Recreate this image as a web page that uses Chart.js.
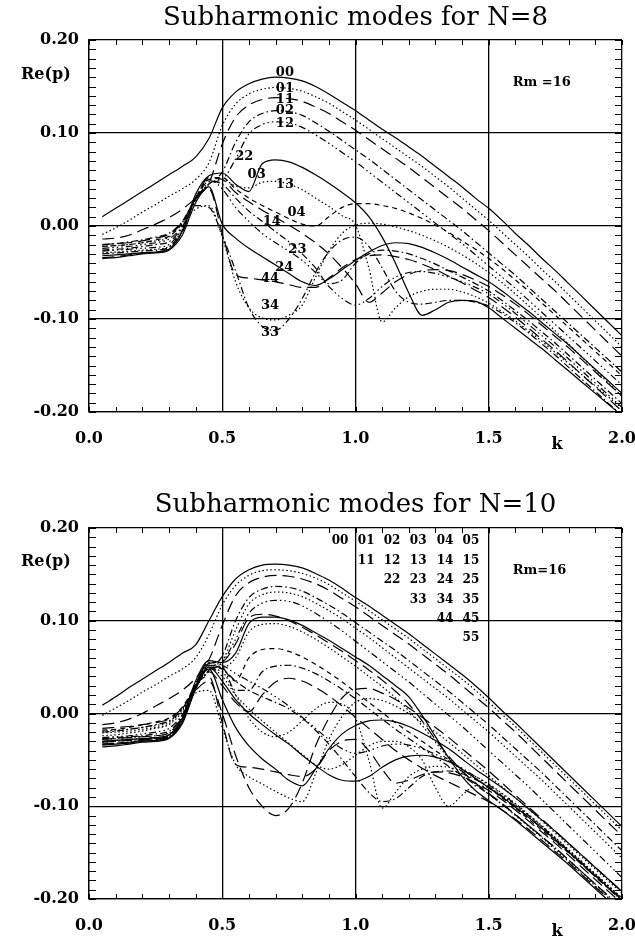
<!DOCTYPE html>
<html>
<head>
<meta charset="utf-8">
<script src="https://cdn.jsdelivr.net/npm/chart.js@4.4.0/dist/chart.umd.min.js"></script>
<style>
  body { margin: 0; background: #fff; }
  canvas { display: block; }
</style>
</head>
<body>
<canvas id="chartN8" width="635" height="469"></canvas>
<canvas id="chartN10" width="635" height="469"></canvas>
<script>
// wavenumber grid shared by every curve
var k = [0.05,0.10,0.15,0.20,0.25,0.30,0.35,0.40,0.45,0.50,0.55,0.60,0.65,0.70,0.75,0.80,0.85,0.90,0.95,1.00,
         1.05,1.10,1.15,1.20,1.25,1.30,1.35,1.40,1.45,1.50,1.55,1.60,1.65,1.70,1.75,1.80,1.85,1.90,1.95,2.00];

// ---- N=8, Re(p) per mode ----
var n8_00 = [0.010,0.019,0.028,0.037,0.046,0.055,0.064,0.074,0.094,0.127,0.144,0.153,0.158,0.160,0.159,0.156,0.150,0.142,0.133,0.124,0.114,0.104,0.095,0.085,0.075,0.064,0.053,0.042,0.030,0.019,0.006,-0.008,-0.021,-0.035,-0.048,-0.062,-0.076,-0.090,-0.104,-0.118];
var n8_01 = [-0.009,-0.002,0.006,0.015,0.023,0.032,0.040,0.050,0.068,0.108,0.131,0.142,0.147,0.149,0.148,0.145,0.139,0.132,0.123,0.114,0.104,0.094,0.084,0.074,0.064,0.053,0.042,0.030,0.018,0.006,-0.007,-0.020,-0.033,-0.047,-0.060,-0.074,-0.088,-0.102,-0.116,-0.130];
var n8_11 = [-0.014,-0.013,-0.010,-0.004,0.002,0.009,0.018,0.030,0.046,0.088,0.117,0.130,0.136,0.138,0.137,0.134,0.128,0.121,0.112,0.103,0.093,0.083,0.073,0.063,0.052,0.041,0.030,0.019,0.007,-0.005,-0.018,-0.031,-0.044,-0.057,-0.070,-0.084,-0.098,-0.112,-0.126,-0.140];
var n8_02 = [-0.020,-0.019,-0.017,-0.015,-0.012,-0.008,0.005,0.030,0.045,0.058,0.090,0.112,0.121,0.124,0.123,0.119,0.111,0.102,0.092,0.082,0.072,0.061,0.050,0.039,0.028,0.017,0.006,-0.005,-0.017,-0.029,-0.041,-0.053,-0.066,-0.079,-0.092,-0.105,-0.118,-0.131,-0.144,-0.157];
var n8_12 = [-0.024,-0.023,-0.022,-0.020,-0.018,-0.014,0.000,0.028,0.046,0.050,0.072,0.099,0.109,0.112,0.111,0.106,0.098,0.089,0.079,0.069,0.058,0.047,0.036,0.025,0.014,0.003,-0.008,-0.019,-0.031,-0.043,-0.055,-0.067,-0.080,-0.093,-0.106,-0.119,-0.132,-0.145,-0.158,-0.171];
var n8_22 = [-0.032,-0.031,-0.030,-0.029,-0.028,-0.025,-0.006,0.034,0.054,0.057,0.045,0.037,0.067,0.071,0.069,0.063,0.055,0.046,0.036,0.025,0.010,-0.012,-0.040,-0.072,-0.096,-0.090,-0.082,-0.080,-0.081,-0.088,-0.099,-0.110,-0.121,-0.132,-0.144,-0.156,-0.168,-0.180,-0.192,-0.204];
var n8_24 = [-0.035,-0.034,-0.032,-0.030,-0.029,-0.026,-0.010,0.025,0.042,0.002,-0.013,-0.024,-0.033,-0.042,-0.051,-0.060,-0.064,-0.057,-0.047,-0.037,-0.028,-0.021,-0.018,-0.019,-0.023,-0.029,-0.036,-0.044,-0.052,-0.060,-0.070,-0.081,-0.092,-0.104,-0.116,-0.128,-0.141,-0.154,-0.167,-0.180];
var n8_13 = [-0.029,-0.028,-0.027,-0.026,-0.025,-0.022,-0.004,0.028,0.045,0.050,0.043,0.041,0.047,0.048,0.045,0.039,0.030,0.021,0.011,0.001,-0.045,-0.103,-0.088,-0.076,-0.070,-0.068,-0.068,-0.071,-0.076,-0.083,-0.092,-0.102,-0.113,-0.124,-0.136,-0.148,-0.160,-0.172,-0.184,-0.196];
var n8_34 = [-0.022,-0.021,-0.020,-0.018,-0.016,-0.012,0.004,0.018,0.022,-0.012,-0.060,-0.088,-0.099,-0.101,-0.096,-0.085,-0.055,-0.027,-0.008,0.001,0.003,0.002,-0.001,-0.005,-0.010,-0.016,-0.023,-0.031,-0.040,-0.050,-0.061,-0.073,-0.086,-0.099,-0.113,-0.127,-0.141,-0.155,-0.169,-0.183];
var n8_33 = [-0.030,-0.029,-0.028,-0.027,-0.026,-0.023,-0.005,0.022,0.020,-0.010,-0.048,-0.088,-0.108,-0.112,-0.100,-0.078,-0.050,-0.028,-0.015,-0.012,-0.022,-0.045,-0.070,-0.082,-0.084,-0.082,-0.080,-0.080,-0.082,-0.086,-0.094,-0.104,-0.115,-0.127,-0.139,-0.152,-0.165,-0.178,-0.191,-0.204];
var n8_44 = [-0.034,-0.033,-0.031,-0.029,-0.028,-0.024,-0.007,0.030,0.040,-0.008,-0.052,-0.056,-0.058,-0.060,-0.063,-0.066,-0.066,-0.056,-0.045,-0.036,-0.032,-0.031,-0.033,-0.036,-0.041,-0.047,-0.054,-0.061,-0.069,-0.077,-0.087,-0.098,-0.110,-0.122,-0.134,-0.147,-0.160,-0.173,-0.186,-0.199];
var n8_23 = [-0.027,-0.026,-0.025,-0.024,-0.023,-0.020,-0.002,0.030,0.050,0.040,0.020,0.005,-0.008,-0.018,-0.027,-0.037,-0.050,-0.065,-0.078,-0.085,-0.078,-0.065,-0.055,-0.050,-0.049,-0.051,-0.055,-0.060,-0.066,-0.073,-0.083,-0.094,-0.106,-0.118,-0.130,-0.143,-0.156,-0.169,-0.182,-0.195];
var n8_14 = [-0.026,-0.025,-0.024,-0.022,-0.020,-0.017,-0.001,0.028,0.048,0.045,0.030,0.016,0.005,-0.006,-0.017,-0.030,-0.045,-0.062,-0.058,-0.040,-0.030,-0.026,-0.027,-0.030,-0.035,-0.041,-0.048,-0.055,-0.062,-0.070,-0.080,-0.091,-0.102,-0.114,-0.126,-0.139,-0.152,-0.165,-0.178,-0.191];
var n8_03 = [-0.020,-0.019,-0.018,-0.016,-0.013,-0.009,0.004,0.030,0.052,0.050,0.036,0.026,0.017,0.009,0.001,-0.008,-0.018,-0.030,-0.045,-0.062,-0.082,-0.072,-0.060,-0.052,-0.048,-0.047,-0.048,-0.052,-0.058,-0.065,-0.074,-0.084,-0.095,-0.107,-0.119,-0.131,-0.144,-0.157,-0.170,-0.183];
var n8_04 = [-0.022,-0.021,-0.020,-0.018,-0.015,-0.011,0.003,0.030,0.050,0.052,0.040,0.030,0.022,0.015,0.008,0.002,0.000,0.010,0.020,0.024,0.024,0.022,0.019,0.014,0.008,0.001,-0.007,-0.016,-0.025,-0.035,-0.046,-0.058,-0.070,-0.083,-0.096,-0.109,-0.122,-0.135,-0.148,-0.161];

// ---- N=10, Re(p) per mode ----
var n10_00 = [0.009,0.018,0.028,0.037,0.046,0.055,0.065,0.074,0.100,0.126,0.145,0.155,0.160,0.161,0.160,0.157,0.151,0.144,0.135,0.125,0.116,0.106,0.096,0.086,0.075,0.064,0.053,0.042,0.030,0.017,0.003,-0.010,-0.024,-0.038,-0.052,-0.066,-0.080,-0.094,-0.108,-0.122];
var n10_01 = [-0.002,0.006,0.014,0.023,0.031,0.040,0.048,0.060,0.085,0.117,0.138,0.149,0.154,0.155,0.154,0.151,0.146,0.139,0.130,0.121,0.111,0.101,0.091,0.081,0.070,0.059,0.048,0.037,0.025,0.012,-0.001,-0.014,-0.028,-0.042,-0.056,-0.070,-0.084,-0.098,-0.112,-0.126];
var n10_11 = [-0.012,-0.010,-0.006,0.000,0.008,0.016,0.025,0.038,0.058,0.095,0.127,0.141,0.147,0.149,0.148,0.145,0.140,0.133,0.124,0.115,0.105,0.095,0.085,0.075,0.064,0.053,0.042,0.030,0.018,0.006,-0.007,-0.020,-0.034,-0.048,-0.062,-0.076,-0.090,-0.104,-0.118,-0.132];
var n10_02 = [-0.020,-0.019,-0.017,-0.015,-0.012,-0.008,0.005,0.030,0.047,0.062,0.100,0.125,0.134,0.137,0.136,0.132,0.125,0.117,0.108,0.098,0.088,0.078,0.068,0.057,0.046,0.035,0.024,0.012,0.000,-0.012,-0.025,-0.038,-0.051,-0.064,-0.078,-0.092,-0.106,-0.120,-0.134,-0.148];
var n10_12 = [-0.024,-0.023,-0.021,-0.019,-0.016,-0.012,0.002,0.028,0.046,0.056,0.090,0.118,0.128,0.131,0.130,0.126,0.119,0.111,0.102,0.092,0.082,0.071,0.060,0.049,0.038,0.027,0.016,0.004,-0.008,-0.020,-0.033,-0.046,-0.059,-0.072,-0.086,-0.100,-0.114,-0.128,-0.142,-0.156];
var n10_22 = [-0.026,-0.025,-0.024,-0.022,-0.020,-0.016,-0.001,0.028,0.045,0.055,0.080,0.108,0.119,0.122,0.121,0.116,0.108,0.099,0.089,0.078,0.067,0.056,0.045,0.034,0.022,0.010,-0.002,-0.014,-0.027,-0.040,-0.053,-0.066,-0.079,-0.093,-0.107,-0.121,-0.135,-0.149,-0.163,-0.177];
var n10_13 = [-0.030,-0.029,-0.028,-0.027,-0.026,-0.023,-0.005,0.035,0.057,0.055,0.065,0.097,0.104,0.104,0.101,0.095,0.087,0.079,0.070,0.061,0.052,0.041,0.030,0.018,-0.002,-0.025,-0.048,-0.068,-0.083,-0.094,-0.104,-0.115,-0.127,-0.139,-0.151,-0.163,-0.176,-0.189,-0.202,-0.215];
var n10_23 = [-0.028,-0.027,-0.026,-0.025,-0.024,-0.021,-0.003,0.032,0.054,0.056,0.075,0.103,0.107,0.105,0.100,0.093,0.085,0.076,0.067,0.057,0.047,0.036,0.024,0.010,-0.008,-0.028,-0.046,-0.062,-0.075,-0.086,-0.097,-0.109,-0.121,-0.133,-0.145,-0.158,-0.171,-0.184,-0.197,-0.210];
var n10_33 = [-0.031,-0.030,-0.029,-0.028,-0.027,-0.024,-0.006,0.030,0.052,0.050,0.060,0.088,0.096,0.097,0.094,0.088,0.080,0.071,0.061,0.051,0.040,0.029,0.017,0.003,-0.013,-0.031,-0.048,-0.063,-0.076,-0.087,-0.098,-0.110,-0.122,-0.134,-0.147,-0.160,-0.173,-0.186,-0.199,-0.212];
var n10_03 = [-0.018,-0.017,-0.015,-0.012,-0.009,-0.005,0.007,0.030,0.050,0.048,0.035,0.060,0.069,0.070,0.067,0.061,0.053,0.044,0.034,0.023,0.012,0.001,-0.010,-0.020,-0.030,-0.040,-0.050,-0.060,-0.070,-0.080,-0.091,-0.102,-0.114,-0.126,-0.138,-0.150,-0.163,-0.176,-0.189,-0.202];
var n10_14 = [-0.027,-0.026,-0.025,-0.024,-0.022,-0.019,-0.002,0.030,0.052,0.050,0.025,0.025,0.045,0.051,0.052,0.049,0.043,0.035,0.026,0.016,0.005,-0.006,-0.017,-0.027,-0.037,-0.047,-0.057,-0.067,-0.077,-0.087,-0.098,-0.109,-0.121,-0.133,-0.145,-0.158,-0.171,-0.184,-0.197,-0.210];
var n10_24 = [-0.033,-0.032,-0.031,-0.029,-0.028,-0.025,-0.008,0.028,0.045,0.030,0.012,0.002,0.020,0.034,0.038,0.035,0.028,0.019,0.008,-0.004,-0.016,-0.028,-0.040,-0.050,-0.059,-0.067,-0.074,-0.081,-0.088,-0.095,-0.104,-0.114,-0.125,-0.137,-0.149,-0.161,-0.174,-0.187,-0.200,-0.213];
var n10_44 = [-0.034,-0.033,-0.032,-0.030,-0.029,-0.026,-0.009,0.028,0.048,0.015,-0.015,-0.035,-0.049,-0.060,-0.072,-0.078,-0.060,-0.038,-0.022,-0.013,-0.008,-0.007,-0.009,-0.014,-0.021,-0.029,-0.038,-0.049,-0.060,-0.070,-0.080,-0.091,-0.103,-0.115,-0.127,-0.140,-0.153,-0.166,-0.179,-0.192];
var n10_34 = [-0.036,-0.035,-0.033,-0.031,-0.030,-0.027,-0.011,0.026,0.050,0.035,0.015,0.000,-0.012,-0.023,-0.033,-0.045,-0.056,-0.066,-0.072,-0.073,-0.068,-0.058,-0.050,-0.046,-0.045,-0.047,-0.052,-0.060,-0.070,-0.080,-0.090,-0.101,-0.112,-0.124,-0.136,-0.149,-0.162,-0.175,-0.188,-0.201];
var n10_04 = [-0.016,-0.015,-0.014,-0.012,-0.010,-0.006,0.006,0.025,0.035,0.000,-0.045,-0.080,-0.100,-0.110,-0.102,-0.075,-0.035,-0.005,0.017,0.026,0.027,0.022,0.015,0.006,-0.004,-0.015,-0.026,-0.038,-0.050,-0.062,-0.075,-0.088,-0.101,-0.114,-0.127,-0.140,-0.153,-0.166,-0.179,-0.192];
var n10_35 = [-0.021,-0.020,-0.019,-0.017,-0.015,-0.011,0.004,0.022,0.025,-0.015,-0.055,-0.068,-0.076,-0.084,-0.091,-0.095,-0.065,-0.028,-0.003,0.012,0.016,0.014,0.008,0.000,-0.010,-0.020,-0.031,-0.043,-0.055,-0.067,-0.079,-0.091,-0.103,-0.116,-0.129,-0.142,-0.155,-0.168,-0.181,-0.194];
var n10_45 = [-0.031,-0.030,-0.029,-0.028,-0.027,-0.024,-0.007,0.030,0.040,-0.010,-0.055,-0.058,-0.060,-0.063,-0.066,-0.068,-0.060,-0.040,-0.030,-0.028,-0.040,-0.060,-0.075,-0.072,-0.066,-0.063,-0.064,-0.068,-0.075,-0.083,-0.093,-0.104,-0.116,-0.128,-0.140,-0.153,-0.166,-0.179,-0.192,-0.205];
var n10_05 = [-0.019,-0.018,-0.017,-0.015,-0.013,-0.009,0.005,0.030,0.048,0.045,0.020,-0.005,-0.020,-0.025,-0.020,-0.008,0.005,0.012,0.010,-0.005,-0.050,-0.102,-0.085,-0.068,-0.060,-0.057,-0.058,-0.062,-0.068,-0.076,-0.086,-0.097,-0.109,-0.121,-0.134,-0.147,-0.160,-0.173,-0.186,-0.199];
var n10_15 = [-0.028,-0.027,-0.026,-0.025,-0.024,-0.021,-0.003,0.028,0.050,0.040,0.020,0.005,-0.008,-0.020,-0.032,-0.044,-0.055,-0.060,-0.055,-0.045,-0.035,-0.030,-0.030,-0.036,-0.050,-0.080,-0.100,-0.088,-0.078,-0.080,-0.089,-0.099,-0.110,-0.122,-0.134,-0.147,-0.160,-0.173,-0.186,-0.199];
var n10_25 = [-0.033,-0.032,-0.031,-0.029,-0.028,-0.025,-0.008,0.030,0.052,0.048,0.035,0.025,0.018,0.012,0.005,-0.005,-0.018,-0.033,-0.050,-0.068,-0.085,-0.095,-0.092,-0.080,-0.068,-0.063,-0.062,-0.065,-0.071,-0.079,-0.089,-0.100,-0.112,-0.124,-0.137,-0.150,-0.163,-0.176,-0.189,-0.202];
var n10_55 = [-0.030,-0.029,-0.028,-0.027,-0.026,-0.023,-0.006,0.032,0.055,0.052,0.043,0.035,0.027,0.018,0.008,-0.004,-0.016,-0.028,-0.038,-0.043,-0.040,-0.035,-0.033,-0.034,-0.038,-0.044,-0.051,-0.059,-0.068,-0.077,-0.087,-0.098,-0.110,-0.122,-0.135,-0.148,-0.161,-0.174,-0.187,-0.200];

// mode labels written next to the curves in the N=8 panel (k, Re(p) where the text sits)
var lab8 = ['00','01','11','02','12','22','03','13','04','14','23','24','44','34','33'];
var lab8K = [0.735,0.735,0.735,0.735,0.735,0.583,0.629,0.735,0.779,0.686,0.782,0.733,0.679,0.679,0.679];
var lab8Re = [0.165,0.148,0.136,0.124,0.110,0.075,0.055,0.045,0.014,0.005,-0.025,-0.045,-0.057,-0.086,-0.115];

// mode table printed in the N=10 panel
var table10 = [
  ['00','01','02','03','04','05'],
  ['','11','12','13','14','15'],
  ['','','22','23','24','25'],
  ['','','','33','34','35'],
  ['','','','','44','45'],
  ['','','','','','55']
];
var table10K = [0.942,1.040,1.137,1.235,1.336,1.433];
var table10Re = [0.186,0.165,0.144,0.123,0.102,0.081];

var dashes = {
  solid: [],
  dot: [1.5, 2.5],
  dash: [5, 4],
  dashDot: [7, 3, 1.5, 3],
  dashDot3: [7, 3, 1.5, 3, 1.5, 3, 1.5, 3],
  longDash: [12, 6]
};

var curves8 = [
  [n8_00,'solid'],[n8_01,'dot'],[n8_11,'longDash'],[n8_02,'dashDot'],[n8_12,'dashDot3'],
  [n8_22,'solid'],[n8_24,'solid'],[n8_13,'dot'],[n8_34,'dot'],[n8_33,'dashDot'],
  [n8_44,'longDash'],[n8_23,'dashDot3'],[n8_14,'dashDot'],[n8_03,'longDash'],[n8_04,'dash']
];
var curves10 = [
  [n10_00,'solid'],[n10_01,'dot'],[n10_11,'longDash'],[n10_02,'dashDot'],[n10_12,'dot'],[n10_22,'dashDot3'],
  [n10_13,'solid'],[n10_23,'longDash'],[n10_33,'dot'],
  [n10_03,'dash'],[n10_14,'dashDot'],[n10_24,'longDash'],
  [n10_44,'solid'],[n10_34,'solid'],[n10_04,'longDash'],[n10_35,'dot'],[n10_45,'longDash'],
  [n10_05,'dot'],[n10_15,'dot'],[n10_25,'dashDot'],[n10_55,'dashDot3']
];

Chart.defaults.color = '#000';
Chart.defaults.font.family = '"DejaVu Serif", serif';

var decor = {
  id: 'decor',
  afterDatasetsDraw: function (chart, args, opts) {
    var ctx = chart.ctx, a = chart.chartArea;
    var xs = chart.scales.x, ys = chart.scales.y;
    var i, px, py;
    ctx.save();
    // minor ticks on all four sides, pointing inward
    ctx.strokeStyle = '#000';
    ctx.lineWidth = 1;
    ctx.beginPath();
    for (i = -20; i <= 20; i++) {
      py = Math.round(ys.getPixelForValue(i / 100)) + 0.5;
      ctx.moveTo(a.left, py); ctx.lineTo(a.left + 7, py);
      ctx.moveTo(a.right, py); ctx.lineTo(a.right - 7, py);
    }
    for (i = 0; i <= 20; i++) {
      px = Math.round(xs.getPixelForValue(i / 10)) + 0.5;
      ctx.moveTo(px, a.bottom); ctx.lineTo(px, a.bottom - 5);
      ctx.moveTo(px, a.top); ctx.lineTo(px, a.top + 5);
    }
    ctx.stroke();

    ctx.fillStyle = '#000';
    ctx.textBaseline = 'middle';
    ctx.font = 'bold 16px "DejaVu Serif"';
    ctx.textAlign = 'left';
    ctx.fillText('Re(p)', 21, ys.getPixelForValue(0.163));
    ctx.textAlign = 'center';
    ctx.fillText('k', xs.getPixelForValue(1.756), a.bottom + 33);

    ctx.font = 'bold 13px "DejaVu Serif"';
    ctx.textAlign = 'left';
    ctx.fillText(opts.rm, xs.getPixelForValue(1.59), ys.getPixelForValue(0.154));

    ctx.textAlign = 'center';
    if (opts.labels) {
      for (i = 0; i < opts.labels.length; i++) {
        ctx.fillText(opts.labels[i], xs.getPixelForValue(opts.labelK[i]), ys.getPixelForValue(opts.labelRe[i]));
      }
    }
    if (opts.table) {
      ctx.font = 'bold 12px "DejaVu Serif"';
      for (var r = 0; r < opts.table.length; r++) {
        for (var c = 0; c < opts.table[r].length; c++) {
          if (opts.table[r][c] === '') continue;
          ctx.fillText(opts.table[r][c], xs.getPixelForValue(opts.tableK[c]), ys.getPixelForValue(opts.tableRe[r]));
        }
      }
    }
    ctx.restore();
  }
};

function makeChart(id, titleText, curves, titlePad, xHeight, decorOpts) {
  var sets = [];
  for (var i = 0; i < curves.length; i++) {
    var vals = curves[i][0];
    var pts = [];
    for (var j = 0; j < k.length; j++) {
      pts.push({ x: k[j], y: vals[j] });
    }
    sets.push({
      data: pts,
      borderColor: '#000',
      borderWidth: 1.2,
      borderDash: dashes[curves[i][1]],
      pointRadius: 0,
      fill: false,
      cubicInterpolationMode: 'monotone'
    });
  }
  var tickFont = { family: '"DejaVu Serif"', size: 16, weight: 'bold' };
  return new Chart(document.getElementById(id), {
    type: 'line',
    data: { datasets: sets },
    options: {
      responsive: false,
      devicePixelRatio: 1,
      animation: false,
      layout: { padding: { left: 0, right: 13, top: 0, bottom: 0 } },
      plugins: {
        legend: { display: false },
        tooltip: { enabled: false },
        title: {
          display: true,
          text: titleText,
          fullSize: false,
          color: '#000',
          font: { family: '"DejaVu Serif"', size: 26, weight: 'normal', lineHeight: 1 },
          padding: titlePad
        },
        decor: decorOpts
      },
      scales: {
        x: {
          type: 'linear',
          min: 0,
          max: 2,
          ticks: {
            stepSize: 0.5,
            padding: 17,
            maxRotation: 0,
            font: tickFont,
            color: '#000',
            callback: function (v) { return v.toFixed(1); }
          },
          grid: { color: '#000', lineWidth: 1.3, drawTicks: false },
          border: { color: '#000', width: 1.3 },
          afterFit: function (s) { s.height = xHeight; s.paddingLeft = 0; s.paddingRight = 0; }
        },
        y: {
          min: -0.2,
          max: 0.2,
          ticks: {
            stepSize: 0.1,
            padding: 10,
            font: tickFont,
            color: '#000',
            callback: function (v) { return Math.abs(v) < 1e-9 ? '0.00' : v.toFixed(2); }
          },
          grid: { color: '#000', lineWidth: 1.3, drawTicks: false },
          border: { color: '#000', width: 1.3 },
          afterFit: function (s) { s.width = 89; s.paddingTop = 0; s.paddingBottom = 0; }
        }
      }
    },
    plugins: [decor]
  });
}

makeChart('chartN8', 'Subharmonic modes for N=8', curves8, { top: 5, bottom: 9 }, 57,
  { rm: 'Rm =16', labels: lab8, labelK: lab8K, labelRe: lab8Re });
makeChart('chartN10', 'Subharmonic modes for N=10', curves10, { top: 23, bottom: 10 }, 39,
  { rm: 'Rm=16', table: table10, tableK: table10K, tableRe: table10Re });
</script>
</body>
</html>
